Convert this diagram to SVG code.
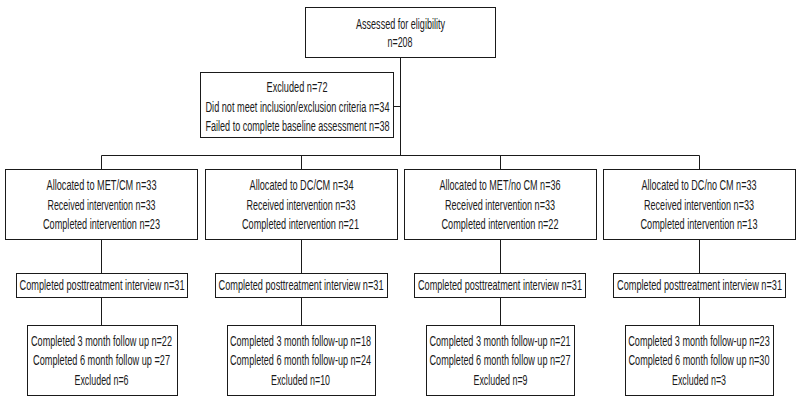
<svg xmlns="http://www.w3.org/2000/svg" width="800" height="401" viewBox="0 0 800 401">
<style>
rect{fill:#fff;stroke:#1a1a1a;stroke-width:1}
.c line{stroke:#1a1a1a;stroke-width:1}
text{font-family:"Liberation Sans",Arial,sans-serif;font-size:15px;fill:#1a1a1a;text-anchor:middle}
</style>
<rect x="0" y="0" width="800" height="401" style="stroke:none"/>
<g class="c" id="connectors">
<line x1="400.5" y1="57" x2="400.5" y2="155.5"/>
<line x1="394" y1="106.5" x2="400.5" y2="106.5"/>
<line x1="101.5" y1="155.5" x2="699.5" y2="155.5"/>
<line x1="101.5" y1="155.5" x2="101.5" y2="169"/>
<line x1="301.5" y1="155.5" x2="301.5" y2="169"/>
<line x1="500.5" y1="155.5" x2="500.5" y2="169"/>
<line x1="699.5" y1="155.5" x2="699.5" y2="169"/>
<line x1="101.5" y1="239" x2="101.5" y2="273"/>
<line x1="301.5" y1="239" x2="301.5" y2="273"/>
<line x1="500.5" y1="239" x2="500.5" y2="273"/>
<line x1="699.5" y1="239" x2="699.5" y2="273"/>
<line x1="101.5" y1="297" x2="101.5" y2="325"/>
<line x1="301.5" y1="297" x2="301.5" y2="325"/>
<line x1="500.5" y1="297" x2="500.5" y2="325"/>
<line x1="699.5" y1="297" x2="699.5" y2="325"/>
</g>
<g id="assessed">
<rect x="305.5" y="7.5" width="190" height="50"/>
<text transform="translate(400.5,28.5) scale(.65,1)" textLength="136.9" lengthAdjust="spacingAndGlyphs">Assessed for eligibility</text>
<text transform="translate(400,47) scale(.65,1)" textLength="38.5" lengthAdjust="spacingAndGlyphs">n=208</text>
</g>
<g id="excluded">
<rect x="200.5" y="72.5" width="193" height="65"/>
<text transform="translate(297,92) scale(.65,1)" textLength="93.8" lengthAdjust="spacingAndGlyphs">Excluded n=72</text>
<text transform="translate(297.5,111.5) scale(.65,1)" textLength="283.1" lengthAdjust="spacingAndGlyphs">Did not meet inclusion/exclusion criteria n=34</text>
<text transform="translate(297.5,130.5) scale(.65,1)" textLength="283.1" lengthAdjust="spacingAndGlyphs">Failed to complete baseline assessment n=38</text>
</g>
<g id="alloc1">
<rect x="5.5" y="169.5" width="192" height="70"/>
<text transform="translate(101.5,190) scale(.65,1)" textLength="169.2" lengthAdjust="spacingAndGlyphs">Allocated to MET/CM n=33</text>
<text transform="translate(101.5,209.5) scale(.65,1)" textLength="166.2" lengthAdjust="spacingAndGlyphs">Received intervention n=33</text>
<text transform="translate(101.5,229) scale(.65,1)" textLength="180" lengthAdjust="spacingAndGlyphs">Completed intervention n=23</text>
</g>
<g id="alloc2">
<rect x="205.5" y="169.5" width="192" height="70"/>
<text transform="translate(301.5,190) scale(.65,1)" textLength="160" lengthAdjust="spacingAndGlyphs">Allocated to DC/CM n=34</text>
<text transform="translate(301,209.5) scale(.65,1)" textLength="167.7" lengthAdjust="spacingAndGlyphs">Received intervention n=33</text>
<text transform="translate(300.5,229) scale(.65,1)" textLength="180" lengthAdjust="spacingAndGlyphs">Completed intervention n=21</text>
</g>
<g id="alloc3">
<rect x="404.5" y="169.5" width="192" height="70"/>
<text transform="translate(500,190) scale(.65,1)" textLength="186.2" lengthAdjust="spacingAndGlyphs">Allocated to MET/no CM n=36</text>
<text transform="translate(500,209.5) scale(.65,1)" textLength="169.2" lengthAdjust="spacingAndGlyphs">Received intervention n=33</text>
<text transform="translate(500,229) scale(.65,1)" textLength="180" lengthAdjust="spacingAndGlyphs">Completed intervention n=22</text>
</g>
<g id="alloc4">
<rect x="603.5" y="169.5" width="192" height="70"/>
<text transform="translate(699,190) scale(.65,1)" textLength="176.9" lengthAdjust="spacingAndGlyphs">Allocated to DC/no CM n=33</text>
<text transform="translate(699,209.5) scale(.65,1)" textLength="169.2" lengthAdjust="spacingAndGlyphs">Received intervention n=33</text>
<text transform="translate(699,229) scale(.65,1)" textLength="180" lengthAdjust="spacingAndGlyphs">Completed intervention n=13</text>
</g>
<g id="post1">
<rect x="16.5" y="273.5" width="171" height="24"/>
<text transform="translate(102,290) scale(.65,1)" textLength="253.8" lengthAdjust="spacingAndGlyphs">Completed posttreatment interview n=31</text>
</g>
<g id="post2">
<rect x="215.5" y="273.5" width="172" height="24"/>
<text transform="translate(301,290) scale(.65,1)" textLength="253.8" lengthAdjust="spacingAndGlyphs">Completed posttreatment interview n=31</text>
</g>
<g id="post3">
<rect x="414.5" y="273.5" width="171" height="24"/>
<text transform="translate(500,290) scale(.65,1)" textLength="252.3" lengthAdjust="spacingAndGlyphs">Completed posttreatment interview n=31</text>
</g>
<g id="post4">
<rect x="613.5" y="273.5" width="172" height="24"/>
<text transform="translate(699.5,290) scale(.65,1)" textLength="253.8" lengthAdjust="spacingAndGlyphs">Completed posttreatment interview n=31</text>
</g>
<g id="follow1">
<rect x="27.5" y="325.5" width="150" height="70"/>
<text transform="translate(101.5,345.5) scale(.65,1)" textLength="216.9" lengthAdjust="spacingAndGlyphs">Completed 3 month follow up n=22</text>
<text transform="translate(101.5,365) scale(.65,1)" textLength="210.8" lengthAdjust="spacingAndGlyphs">Completed 6 month follow up =27</text>
<text transform="translate(101.5,384.5) scale(.65,1)" textLength="83.1" lengthAdjust="spacingAndGlyphs">Excluded n=6</text>
</g>
<g id="follow2">
<rect x="227.5" y="325.5" width="148" height="70"/>
<text transform="translate(300.5,345.5) scale(.65,1)" textLength="216.9" lengthAdjust="spacingAndGlyphs">Completed 3 month follow-up n=18</text>
<text transform="translate(300.5,365) scale(.65,1)" textLength="216.9" lengthAdjust="spacingAndGlyphs">Completed 6 month follow-up n=24</text>
<text transform="translate(300.5,384.5) scale(.65,1)" textLength="90.8" lengthAdjust="spacingAndGlyphs">Excluded n=10</text>
</g>
<g id="follow3">
<rect x="426.5" y="325.5" width="148" height="70"/>
<text transform="translate(500,345.5) scale(.65,1)" textLength="216.9" lengthAdjust="spacingAndGlyphs">Completed 3 month follow-up n=21</text>
<text transform="translate(500,365) scale(.65,1)" textLength="216.9" lengthAdjust="spacingAndGlyphs">Completed 6 month follow up n=27</text>
<text transform="translate(500.5,384.5) scale(.65,1)" textLength="83.1" lengthAdjust="spacingAndGlyphs">Excluded n=9</text>
</g>
<g id="follow4">
<rect x="625.5" y="325.5" width="148" height="70"/>
<text transform="translate(699,345.5) scale(.65,1)" textLength="217.7" lengthAdjust="spacingAndGlyphs">Completed 3 month follow-up n=23</text>
<text transform="translate(699,365) scale(.65,1)" textLength="216.9" lengthAdjust="spacingAndGlyphs">Completed 6 month follow up n=30</text>
<text transform="translate(699,384.5) scale(.65,1)" textLength="83.1" lengthAdjust="spacingAndGlyphs">Excluded n=3</text>
</g>
</svg>
